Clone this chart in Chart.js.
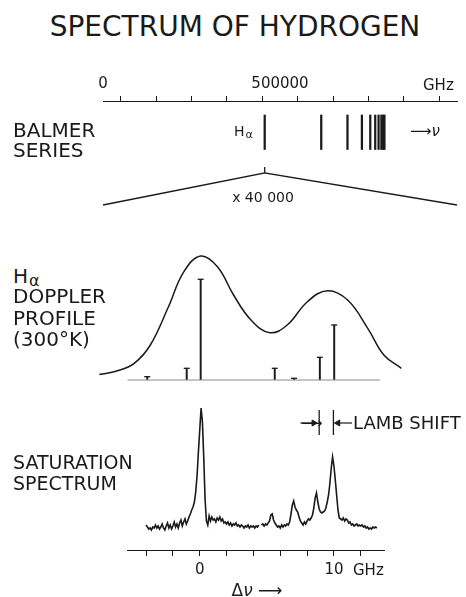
<!DOCTYPE html>
<html>
<head>
<meta charset="utf-8">
<script src="https://cdn.jsdelivr.net/npm/chart.js@4/dist/chart.umd.min.js"></script>
<style>
  html, body { margin: 0; padding: 0; background: #fff; }
  #page { position: relative; width: 466px; height: 597px; overflow: hidden; background: #fff; }
  #page canvas { position: absolute; }
  .lbl { position: absolute; font-family: "DejaVu Sans", sans-serif; color: #1a1a1a; line-height: 1; white-space: nowrap; transform: translateY(-50%); }
  .lbl.c { transform: translate(-50%, -50%); }
  .sub { font-size: 0.8em; position: relative; top: 0.18em; margin-left: 1px; }
</style>
</head>
<body>
<div id="page">
  <canvas id="balmerChart" width="394" height="144"></canvas>
  <canvas id="dopplerChart" width="318" height="142"></canvas>
  <canvas id="satChart" width="277" height="185"></canvas>
</div>
<script>
// Balmer series, GHz
const balmerGHz = [456800, 616500, 690600, 731400, 755000, 769000, 778500, 786500, 791500, 795000];
const balmerTicks = [0, 100000, 200000, 300000, 400000, 500000, 600000, 700000, 800000, 900000, 1000000];
const balmerTickLabels = ['0', '', '', '', '', '500000', '', '', '', '', ''];
const balmerLineSpan = [14, 48.5];          // rows below the scale
const coneApex = [66, 72];                  // small tick under H-alpha
const coneFoot = 104;

// H-alpha Doppler profile (GHz from strongest component)
const dopplerGHz = [-7.5, -6.2, -4.9, -3.7, -2.4, -1.2, 0.05, 1.3, 2.5, 3.8, 5.2, 6.5, 8.0, 9.5, 11.0, 12.5, 13.7, 15.0];
const dopplerProfile = [5.5, 9, 16.7, 35, 71.7, 108.3, 124, 113.3, 85, 60, 47.3, 55, 78.3, 89.3, 80, 51.7, 25, 11.7];
const dopplerBaseRange = [-5.4, 13.4];

// fine-structure components
const fineGHz = [-3.93, -0.99, 0.05, 5.57, 7.01, 8.93, 10.0];
const fineStrength = [3.3, 11.7, 100.7, 11.7, 1.7, 22.7, 55];

// saturation spectrum trace
const satGHz = [
  -4.0, -3.9, -3.8, -3.7, -3.6, -3.5, -3.4, -3.3, -3.2, -3.1,
  -3.0, -2.9, -2.8, -2.7, -2.6, -2.5, -2.4, -2.3, -2.2, -2.1,
  -2.0, -1.9, -1.8, -1.7, -1.6, -1.5, -1.4, -1.3, -1.2, -1.1,
  -1.0, -0.9, -0.8, -0.7, -0.6, -0.5, -0.4, -0.3, -0.2, -0.1,
  0.0, 0.1, 0.2, 0.3, 0.4, 0.5, 0.6, 0.7, 0.8, 0.9,
  1.0, 1.1, 1.2, 1.3, 1.4, 1.5, 1.6, 1.7, 1.8, 1.9,
  2.0, 2.1, 2.2, 2.3, 2.4, 2.5, 2.6, 2.7, 2.8, 2.9,
  3.0, 3.1, 3.2, 3.3, 3.4, 3.5, 3.6, 3.7, 3.8, 3.9,
  4.0, 4.1, 4.2, 4.3, 4.4, 4.5, 4.6, 4.7, 4.8, 4.9,
  5.0, 5.1, 5.2, 5.3, 5.4, 5.5, 5.6, 5.7, 5.8, 5.9,
  6.0, 6.1, 6.2, 6.3, 6.4, 6.5, 6.6, 6.7, 6.8, 6.9,
  7.0, 7.1, 7.2, 7.3, 7.4, 7.5, 7.6, 7.7, 7.8, 7.9,
  8.0, 8.1, 8.2, 8.3, 8.4, 8.5, 8.6, 8.7, 8.8, 8.9,
  9.0, 9.1, 9.2, 9.3, 9.4, 9.5, 9.6, 9.7, 9.8, 9.9,
  10.0, 10.1, 10.2, 10.3, 10.4, 10.5, 10.6, 10.7, 10.8, 10.9,
  11.0, 11.1, 11.2, 11.3, 11.4, 11.5, 11.6, 11.7, 11.8, 11.9,
  12.0, 12.1, 12.2, 12.3, 12.4, 12.5, 12.6, 12.7, 12.8, 12.9,
  13.0, 13.1, 13.2
];
const satSignal = [
  25, 23, 21, 22, 20, 23, 22, 25, 22, 24,
  21, 23, 26, 22, 20, 24, 27, 22, 25, 21,
  24, 28, 23, 26, 22, 27, 30, 24, 28, 31,
  26, 29, 33, 36, 40, 43, 48, 58, 74, 98,
  120, 142, 128, 92, 50, 29, 25, 34, 29, 33,
  30, 31, 28, 32, 30, 33, 29, 31, 27, 28,
  26, 28, 25, 27, 24, 26, 25, 27, 24, 25,
  23, 25, 24, 22, 24, 23, 25, 22, 24, 23,
  24, 22, 24, 23, 25, null, 25, 26, 24, 26,
  25, 27, 29, 35, 36, 30, 27, 25, 23, 24,
  22, 25, 23, 25, 24, 26, 25, 28, 36, 45,
  49, 43, 40, 38, 33, 29, 27, 25, 28, 26,
  29, 31, 30, 32, 35, 42, 52, 57, 48, 41,
  38, 37, 38, 39, 42, 48, 55, 67, 82, 93,
  84, 70, 55, 40, 32, 31, 30, 32, 29, 31,
  30, 27, 28, 25, 26, 24, 25, 26, 24, 25,
  24, 25, 23, 24, 22, 23, 21, 22, 21, 23,
  22, 23, 22
];
const satTicks = [-4, -2, 0, 2, 4, 6, 8, 10, 12];
const satTickLabels = ['', '', '0', '', '', '', '', '10', ''];

// Lamb shift marker
const lambMarksGHz = [8.9, 9.96];
const lambBarSpan = [115, 140];
const lambArrowLevel = 127;
const lambArrowTailsGHz = [7.5, 11.35];
const lambArrowHeadsGHz = [8.5, 10.3];
const lambArrowRotation = [90, 270];

const INK = '#1a1a1a';
const FONT = '"DejaVu Sans", sans-serif';

function placeCanvas(id, left, top) {
    const c = document.getElementById(id);
    c.style.left = left + 'px';
    c.style.top = top + 'px';
    return c.getContext('2d');
}

function label(html, x, y, size, centered) {
    const d = document.createElement('div');
    d.className = centered ? 'lbl c' : 'lbl';
    d.style.left = x + 'px';
    d.style.top = y + 'px';
    d.style.fontSize = size + 'px';
    d.innerHTML = html;
    document.getElementById('page').appendChild(d);
}

const quiet = {
    responsive: false,
    animation: false,
    devicePixelRatio: 1,
    plugins: { legend: { display: false }, tooltip: { enabled: false } }
};

// --- Balmer series with frequency scale on top
new Chart(placeCanvas('balmerChart', 82.7, 71), {
    type: 'line',
    data: {
        datasets: [
            {
                type: 'bar',
                data: balmerGHz.map(f => ({ x: f, y: balmerLineSpan })),
                backgroundColor: INK,
                barThickness: 1.6,
                grouped: false
            },
            {
                data: [
                    { x: balmerTicks[0], y: coneFoot },
                    { x: balmerGHz[0], y: coneApex[1] },
                    { x: balmerGHz[0], y: coneApex[0] },
                    { x: balmerGHz[0], y: coneApex[1] },
                    { x: balmerTicks[balmerTicks.length - 1], y: coneFoot }
                ],
                borderColor: INK,
                borderWidth: 1.3,
                pointRadius: 0,
                tension: 0,
                clip: false
            }
        ]
    },
    options: {
        ...quiet,
        layout: { padding: { left: 20, right: 20, top: 0, bottom: 4 } },
        scales: {
            x: {
                type: 'linear', position: 'top', min: 0, max: 1000000, offset: false,
                afterBuildTicks: s => { s.ticks = balmerTicks.map(v => ({ value: v })); },
                afterFit: s => { s.height = 30; },
                grid: { drawOnChartArea: false, tickLength: 5, color: INK, lineWidth: 1 },
                border: { display: true, color: INK, width: 1 },
                ticks: {
                    padding: 3, color: INK, autoSkip: false, maxRotation: 0,
                    font: { family: FONT, size: 15 },
                    callback: (v, i) => balmerTickLabels[i]
                }
            },
            y: { display: false, min: 0, max: 110, reverse: true }
        }
    }
});

// --- Doppler profile with fine-structure components
new Chart(placeCanvas('dopplerChart', 91.5, 244), {
    type: 'line',
    data: {
        datasets: [
            {
                data: dopplerGHz.map((f, i) => ({ x: f, y: dopplerProfile[i] })),
                borderColor: INK,
                borderWidth: 1.5,
                pointRadius: 0,
                tension: 0.4,
                clip: false
            },
            {
                data: dopplerBaseRange.map(f => ({ x: f, y: 0 })),
                borderColor: '#8a8a8a',
                borderWidth: 1,
                pointRadius: 0,
                clip: false
            },
            {
                type: 'bar',
                data: fineGHz.map((f, i) => ({ x: f, y: fineStrength[i] })),
                backgroundColor: INK,
                barThickness: 1.3,
                grouped: false
            },
            {
                type: 'scatter',
                data: fineGHz.map((f, i) => ({ x: f, y: fineStrength[i] })),
                pointStyle: 'line',
                pointRadius: 3,
                borderColor: INK,
                borderWidth: 1.3,
                clip: false
            }
        ]
    },
    options: {
        ...quiet,
        layout: { padding: 6 },
        scales: {
            x: { type: 'linear', display: false, min: -7.6, max: 15.2, offset: false },
            y: { display: false, min: 0, max: 130 }
        }
    }
});

// --- Saturation spectrum with detuning axis
const lambSets = lambMarksGHz.map(f => ({
    data: lambBarSpan.map(h => ({ x: f, y: h })),
    borderColor: INK, borderWidth: 1.3, pointRadius: 0
}));
const arrowSets = lambArrowTailsGHz.map((t, i) => ({
    data: [{ x: t, y: lambArrowLevel }, { x: lambArrowHeadsGHz[i], y: lambArrowLevel }],
    borderColor: INK, borderWidth: 1.2, pointRadius: 0
}));
const headSet = {
    type: 'scatter',
    data: lambArrowHeadsGHz.map(f => ({ x: f, y: lambArrowLevel })),
    pointStyle: 'triangle',
    pointRotation: lambArrowRotation,
    pointRadius: 3.5,
    backgroundColor: INK,
    borderColor: INK,
    borderWidth: 1
};

new Chart(placeCanvas('satChart', 116.7, 395), {
    type: 'line',
    data: {
        datasets: [
            {
                data: satGHz.map((f, i) => ({ x: f, y: satSignal[i] })),
                borderColor: INK,
                borderWidth: 1.6,
                pointRadius: 0,
                tension: 0,
                spanGaps: false
            },
            ...lambSets,
            ...arrowSets,
            headSet
        ]
    },
    options: {
        ...quiet,
        layout: { padding: { left: 10, right: 10, top: 5, bottom: 0 } },
        scales: {
            x: {
                type: 'linear', position: 'bottom', min: -5.42, max: 13.73, offset: false,
                afterBuildTicks: s => { s.ticks = satTicks.map(v => ({ value: v })); },
                afterFit: s => { s.height = 30; },
                grid: { drawOnChartArea: false, tickLength: 6, color: INK, lineWidth: 1 },
                border: { display: true, color: INK, width: 1 },
                ticks: {
                    padding: 5, color: INK, autoSkip: false, maxRotation: 0,
                    font: { family: FONT, size: 15 },
                    callback: (v, i) => satTickLabels[i]
                }
            },
            y: { display: false, min: 0, max: 150 }
        }
    }
});

// --- text
label('SPECTRUM OF HYDROGEN', 235, 27, 28, true);
label('GHz', 423, 85, 15);
label('BALMER', 13, 130, 20);
label('SERIES', 13, 150, 20);
label('H<span class="sub">α</span>', 234, 131, 14);
label('⟶<i>ν</i>', 410, 131, 15);
label('x 40 000', 263, 197, 14, true);
label('H<span class="sub">α</span>', 13, 276, 20);
label('DOPPLER', 13, 296, 20);
label('PROFILE', 13, 318, 20);
label('(300°K)', 13, 339, 20);
label('⟶', 301, 423, 15);
label('LAMB SHIFT', 353, 423, 18);
label('SATURATION', 13, 462, 19);
label('SPECTRUM', 13, 483, 19);
label('GHz', 353, 570, 15);
label('Δ<i>ν</i> ⟶', 257, 590, 17, true);
</script>
</body>
</html>
